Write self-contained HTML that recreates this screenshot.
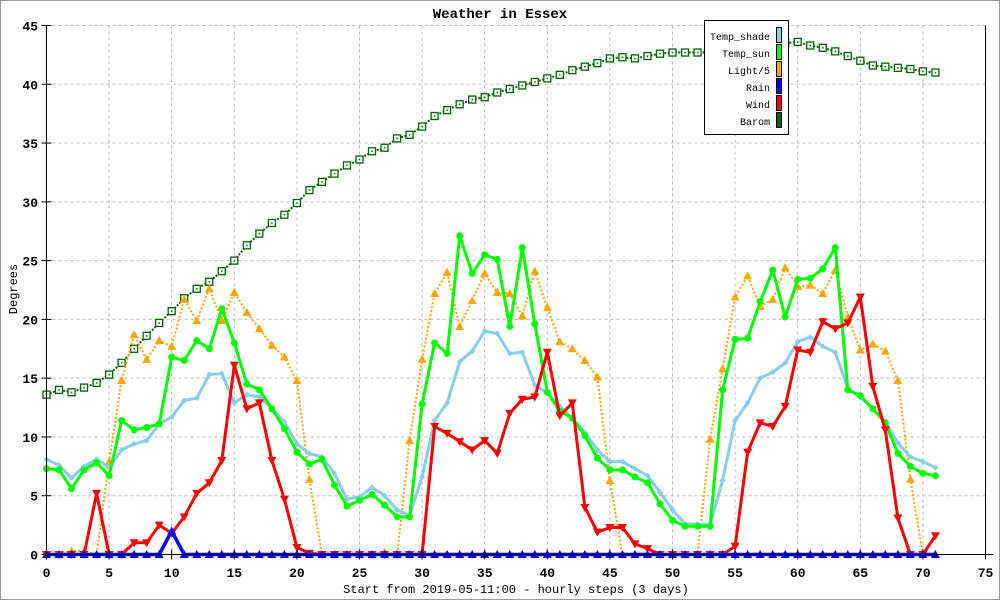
<!DOCTYPE html>
<html><head><meta charset="utf-8"><style>
body{margin:0;background:#fff}
svg{display:block;font-family:"Liberation Mono",monospace}
</style></head><body>
<svg id="chart" width="1000" height="600" xmlns="http://www.w3.org/2000/svg">
<rect x="0.5" y="0.5" width="999" height="599" fill="#fff" stroke="#999"/>
<text x="500" y="18" text-anchor="middle" font-size="14" font-weight="bold">Weather in Essex</text>
<g id="grid"></g>
<g id="series"></g>
<g id="axes"></g>
<text x="516" y="593" text-anchor="middle" font-size="12">Start from 2019-05-11:00 - hourly steps (3 days)</text>
<text transform="translate(17,289) rotate(-90)" text-anchor="middle" font-size="12">Degrees</text>
<g>
<rect x="704.5" y="20.5" width="84" height="114" fill="#fff" stroke="#000"/>
<g><text x="770" y="40" text-anchor="end" font-size="10">Temp_shade</text><rect x="776.5" y="27.5" width="5" height="15" fill="#87ceeb" stroke="#000"/></g>
<g><text x="770" y="57" text-anchor="end" font-size="10">Temp_sun</text><rect x="776.5" y="44.5" width="5" height="15" fill="#00ff00" stroke="#000"/></g>
<g><text x="770" y="74" text-anchor="end" font-size="10">Light/5</text><rect x="776.5" y="61.5" width="5" height="15" fill="#ffa500" stroke="#000"/></g>
<g><text x="770" y="91" text-anchor="end" font-size="10">Rain</text><rect x="776.5" y="78.5" width="5" height="15" fill="#0000ff" stroke="#000"/></g>
<g><text x="770" y="108" text-anchor="end" font-size="10">Wind</text><rect x="776.5" y="95.5" width="5" height="15" fill="#ff0000" stroke="#000"/></g>
<g><text x="770" y="125" text-anchor="end" font-size="10">Barom</text><rect x="776.5" y="112.5" width="5" height="15" fill="#006400" stroke="#000"/></g>
</g>
</svg>
<script>
const xTicks=[0,5,10,15,20,25,30,35,40,45,50,55,60,65,70,75];
const yTicks=[0,5,10,15,20,25,30,35,40,45];
const tempShade=[8.1,7.6,6.5,7.5,8.1,7.4,8.9,9.4,9.7,11.1,11.7,13.1,13.3,15.3,15.4,12.9,13.6,13.4,12.4,11.3,9.4,8.6,8.3,6.9,4.7,4.9,5.7,5.0,3.8,3.3,6.6,11.4,12.9,16.4,17.3,19.0,18.8,17.1,17.2,14.4,13.7,12.6,11.6,10.4,8.9,7.9,7.9,7.3,6.7,5.3,3.8,2.6,2.6,2.5,6.3,11.4,12.9,15.0,15.5,16.3,18.1,18.5,17.7,17.2,14.1,13.4,12.4,11.3,9.5,8.3,7.9,7.4];
const tempSun=[7.3,7.2,5.6,7.2,7.8,6.7,11.4,10.6,10.8,11.1,16.8,16.5,18.2,17.5,20.9,18.0,14.5,14.0,12.4,10.7,8.7,7.7,8.1,5.9,4.1,4.6,5.1,4.2,3.2,3.2,12.8,18.0,17.1,27.1,23.9,25.5,25.1,19.4,26.1,19.6,13.8,12.2,11.6,10.1,8.2,7.2,7.2,6.6,6.1,4.3,2.9,2.4,2.4,2.4,14.0,18.3,18.4,21.5,24.2,20.2,23.4,23.5,24.3,26.1,14.0,13.5,12.4,11.2,8.6,7.5,6.9,6.7];
const light=[0,0,0.3,0.3,0,7.9,14.8,18.7,16.6,18.2,17.7,21.7,19.9,22.6,19.9,22.3,20.6,19.2,17.8,16.8,14.8,6.4,0,0,0,0,0,0.2,0,9.7,16.6,22.2,24.0,19.4,21.6,23.9,22.3,22.2,20.3,24.1,21.0,18.1,17.5,16.5,15.1,6.3,0,0,0,0,0,0,0,9.8,15.8,21.9,23.7,21.1,21.7,24.4,22.8,22.9,22.2,24.2,20.2,17.4,17.9,17.3,14.8,6.4,0,0];
const rain=[0,0,0,0,0,0,0,0,0,0,2.0,0,0,0,0,0,0,0,0,0,0,0,0,0,0,0,0,0,0,0,0,0,0,0,0,0,0,0,0,0,0,0,0,0,0,0,0,0,0,0,0,0,0,0,0,0,0,0,0,0,0,0,0,0,0,0,0,0,0,0,0,0];
const wind=[0,0,0,0,5.2,0,0,1.0,1.0,2.5,1.8,3.2,5.2,6.1,8.0,16.1,12.4,12.9,8.0,4.7,0.6,0.1,0,0,0,0,0,0,0,0,0,10.9,10.3,9.6,8.9,9.7,8.6,12.0,13.2,13.4,17.2,11.8,12.9,4.0,1.9,2.3,2.3,0.9,0.5,0,0,0,0,0,0,0.7,8.7,11.2,10.9,12.6,17.4,17.2,19.8,19.2,19.7,21.9,14.3,10.6,3.1,0,0,1.6];
const barom=[13.6,14.0,13.8,14.2,14.6,15.3,16.3,17.5,18.6,19.7,20.7,21.8,22.6,23.2,24.1,25.0,26.3,27.3,28.2,28.9,29.9,31.0,31.7,32.4,33.1,33.6,34.3,34.6,35.4,35.7,36.4,37.3,37.8,38.3,38.7,38.9,39.3,39.6,39.9,40.2,40.5,40.8,41.2,41.5,41.8,42.2,42.3,42.2,42.4,42.6,42.7,42.7,42.7,42.7,42.7,42.8,42.9,43.0,43.2,43.5,43.6,43.3,43.1,42.8,42.4,42.0,41.6,41.5,41.4,41.3,41.1,41.0];

const NS='http://www.w3.org/2000/svg';
const X0=46.5,X1=985.5,Y0=554.5,Y1=25.5;
const sx=v=>X0+(X1-X0)*v/75;
const sy=v=>Y0-(Y0-Y1)*v/45;
function mk(tag,attrs,parent){const e=document.createElementNS(NS,tag);for(const k in attrs)e.setAttribute(k,attrs[k]);parent.appendChild(e);return e;}
const grid=document.getElementById('grid'),axes=document.getElementById('axes'),ser=document.getElementById('series');
xTicks.forEach(t=>{
  if(t>0&&t<75){const l=mk('line',{x1:sx(t),x2:sx(t),y1:Y1,y2:Y0,stroke:'#bbb','stroke-dasharray':'3,3'},grid);
  
  }
  const tk=mk('line',{x1:sx(t),x2:sx(t),y1:Y0-5,y2:Y0+5,stroke:'#000'},axes);
  
  
  const tx=mk('text',{x:sx(t),y:577,'text-anchor':'middle','font-size':'13','font-weight':'bold'},axes);tx.textContent=t;
  
  
});
yTicks.forEach(t=>{
  if(t>0){const l=mk('line',{x1:X0,x2:X1,y1:sy(t),y2:sy(t),stroke:'#bbb','stroke-dasharray':'3,3'},grid);
  
  }
  const tk=mk('line',{x1:X0-5,x2:X0+5,y1:sy(t),y2:sy(t),stroke:'#000'},axes);
  
  
  const tx=mk('text',{x:38,y:sy(t)+5,'text-anchor':'end','font-size':'13','font-weight':'bold'},axes);tx.textContent=t;
  
  
});
const ax1=mk('line',{x1:X0,x2:X0,y1:Y1,y2:Y0,stroke:'#000'},axes);


const ax2=mk('line',{x1:X1,x2:X1,y1:Y1,y2:Y0,stroke:'#000'},axes);


const ax3=mk('line',{x1:X0,x2:X1+8,y1:Y0,y2:Y0,stroke:'#000'},axes);



function series(data,name,color,width,dash,marker){
  const g=mk('g',{},ser);
  
  
  const pts=data.map((v,i)=>sx(i).toFixed(1)+','+sy(v).toFixed(1)).join(' ');
  const pl=mk('polyline',{points:pts,fill:'none',stroke:color,'stroke-width':width,'stroke-linejoin':'round'},g);
  if(dash)pl.setAttribute('stroke-dasharray',dash);
  
  
  data.forEach((v,i)=>{
    const x=sx(i),y=sy(v);let m;
    if(marker==='circle')m=mk('circle',{cx:x,cy:y,r:3.5,fill:color},g);
    else if(marker==='up')m=mk('polygon',{points:`${x},${y-4.5} ${x-4.5},${y+3.5} ${x+4.5},${y+3.5}`,fill:color},g);
    else if(marker==='down')m=mk('polygon',{points:`${x},${y+4.5} ${x-4.5},${y-3.5} ${x+4.5},${y-3.5}`,fill:color},g);
    else if(marker==='diamond')m=mk('polygon',{points:`${x},${y-3} ${x-3},${y} ${x},${y+3} ${x+3},${y}`,fill:color},g);
    else {m=mk('rect',{x:x-3.5,y:y-3.5,width:7,height:7,fill:'#fff',stroke:color,'stroke-width':1.3},g);mk('rect',{x:x-0.7,y:y-0.7,width:1.5,height:1.5,fill:color},g);}
    
    
  });
}
series(barom,'barom','#006400',2,'2,1.5','square');
series(light,'light','#ffa500',2,'2,2','up');
series(tempShade,'temp-shade','#87ceeb',3,null,'diamond');
series(tempSun,'temp-sun','#00ff00',3,null,'circle');
series(wind,'wind','#ff0000',3,null,'down');
series(rain,'rain','#0000ff',3.5,null,'up');
</script>
</body></html>
